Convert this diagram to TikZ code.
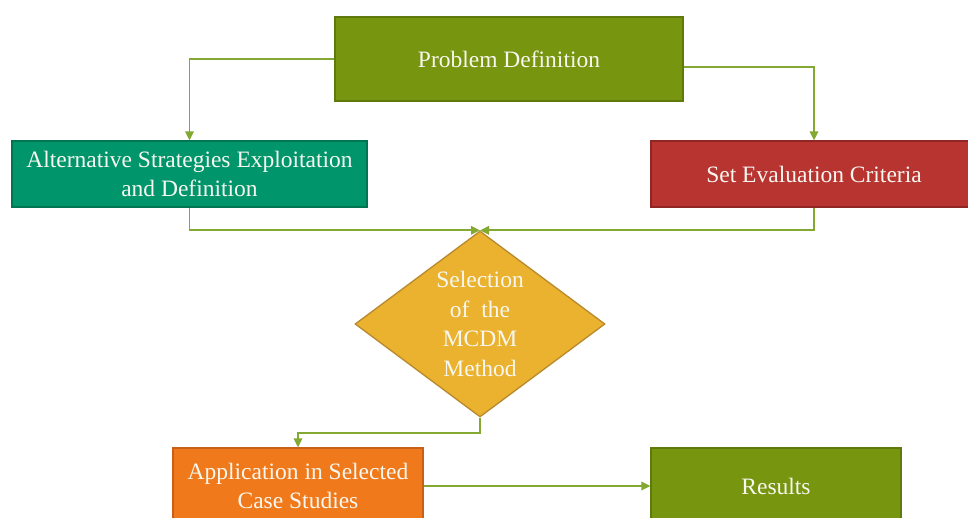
\documentclass[tikz,border=0pt]{standalone}
\usepackage{fontspec}
\setmainfont{Liberation Serif}
\usetikzlibrary{shapes.geometric,arrows.meta,calc}
\definecolor{olive}{HTML}{789510}
\definecolor{oliveB}{HTML}{5E7A0B}
\definecolor{teal}{HTML}{00956A}
\definecolor{tealB}{HTML}{007552}
\definecolor{brick}{HTML}{B83431}
\definecolor{brickB}{HTML}{8F2624}
\definecolor{orng}{HTML}{F07A1B}
\definecolor{orngB}{HTML}{C8601A}
\definecolor{gold}{HTML}{EAB22F}
\definecolor{goldB}{HTML}{B8892A}
\definecolor{conn}{HTML}{84A932}
\definecolor{txt}{HTML}{F7F7F0}
\tikzset{
  box/.style={draw, line width=1.3pt, rectangle, align=center, text=txt,
    font=\fontsize{23.5}{29}\selectfont, inner sep=0pt},
  link/.style={draw=conn, line width=1.7pt, -{Triangle[length=9pt,width=8.5pt]}},
}
\begin{document}
\begin{tikzpicture}[x=1pt,y=-1pt]
\useasboundingbox (0,0) rectangle (968,518);
\clip (0,0) rectangle (968,518);
\node[box, fill=olive, draw=oliveB, minimum width=348pt, minimum height=84pt] (pd) at (509,59) {Problem Definition};
\node[box, fill=teal, draw=tealB, minimum width=355pt, minimum height=66pt] (alt) at (189.5,174) {Alternative Strategies Exploitation\\and Definition};
\node[box, fill=brick, draw=brickB, minimum width=326pt, minimum height=66pt] (sec) at (814,174) {Set Evaluation Criteria};
\node[diamond, draw=goldB, fill=gold, line width=1.3pt, minimum width=250pt, minimum height=186pt, inner sep=0pt,
  label={[align=center, text=txt, font=\fontsize{23.5}{29.5}\selectfont]center:Selection\\of\ \ the\\MCDM\\Method}] (dia) at (480,324) {};
\node[box, fill=orng, draw=orngB, minimum width=250pt, minimum height=76pt] (app) at (298,486) {Application in Selected\\Case Studies};
\node[box, fill=olive, draw=oliveB, minimum width=250pt, minimum height=76pt] (res) at (776,486) {Results};
\draw[link] (pd.west) -| (alt.north);
\draw[link] ([yshift=-8pt]pd.east) -| (sec.north);
\draw[link] (alt.south) |- (dia.north);
\draw[link] (sec.south) |- (dia.north);
\draw[link] (dia.south) -- ++(0,15) -| (app.north);
\draw[link] (app.east) -- (res.west);
\end{tikzpicture}
\end{document}
